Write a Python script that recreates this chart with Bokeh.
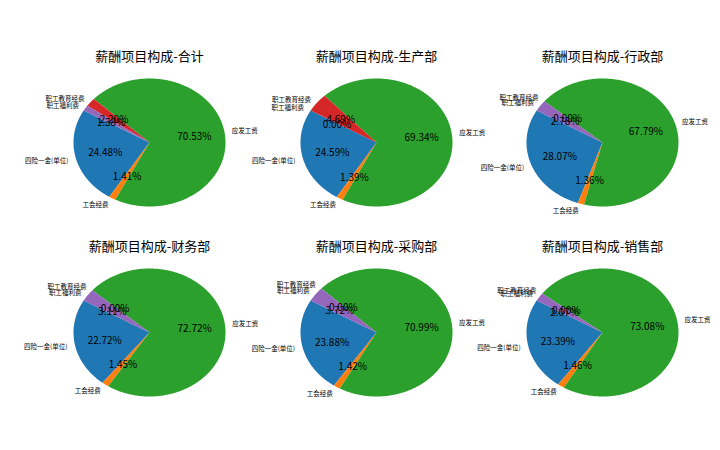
import numpy as np
from bokeh.plotting import figure
from bokeh.models import Range1d, ColumnDataSource
from bokeh.embed import file_html
from bokeh.resources import INLINE
from bokeh.core.properties import value

# ---- data ----
items = ["四险一金(单位)", "工会经费", "应发工资", "职工教育经费", "职工福利费"]
colors = ["#1f77b4", "#ff7f0e", "#2ca02c", "#d62728", "#9467bd"]
departments = ["合计", "生产部", "行政部", "财务部", "采购部", "销售部"]
share_total = [24.48, 1.41, 70.53, 2.20, 1.38]
share_prod = [24.59, 1.39, 69.34, 4.69, 0.00]
share_admin = [28.07, 1.36, 67.79, 0.00, 2.78]
share_fin = [22.72, 1.45, 72.72, 0.00, 3.11]
share_purch = [23.88, 1.42, 70.99, 0.00, 3.72]
share_sales = [23.39, 1.46, 73.08, 0.00, 2.07]
shares = [share_total, share_prod, share_admin, share_fin, share_purch, share_sales]

# ---- layout (page pixel coordinates) ----
col_x = [149, 376, 602]
row_y = [142, 332]
title_y = [55, 245]
RX, RY = 76, 64
START = 150.0
FONT = "Noto Sans CJK SC"

p = figure(width=712, height=434, x_range=Range1d(0, 712), y_range=Range1d(434, 0),
           output_backend="svg", toolbar_location=None, min_border=0,
           x_axis_location=None, y_axis_location=None)
p.grid.visible = False
p.outline_line_color = None

for k, (dept, vals) in enumerate(zip(departments, shares)):
    cx = col_x[k % 3]
    cy = row_y[k // 3]
    ty = title_y[k // 3]
    total = float(sum(vals))
    xs_list, ys_list, cols = [], [], []
    lab = dict(x=[], y=[], text=[], align=[])
    pct = dict(x=[], y=[], text=[])
    a = START
    for name, v, c in zip(items, vals, colors):
        span = 360.0 * v / total
        a0, a1 = a, a + span
        mid = np.deg2rad((a0 + a1) / 2.0)
        if span > 0:
            th = np.deg2rad(np.linspace(a0, a1, max(3, int(span * 2) + 2)))
            xs_list.append(list(np.concatenate([[cx], cx + RX * np.cos(th)])))
            ys_list.append(list(np.concatenate([[cy], cy - RY * np.sin(th)])))
            cols.append(c)
        lx = cx + 1.1 * RX * np.cos(mid)
        ly = cy - 1.1 * RY * np.sin(mid)
        lab["x"].append(lx); lab["y"].append(ly); lab["text"].append(name)
        lab["align"].append("left" if np.cos(mid) > 0 else "right")
        pct["x"].append(cx + 0.6 * RX * np.cos(mid))
        pct["y"].append(cy - 0.6 * RY * np.sin(mid))
        pct["text"].append(f"{v:.2f}%")
        a = a1
    p.patches(xs=xs_list, ys=ys_list, fill_color=cols, line_color=None)
    p.text(x="x", y="y", text="text", text_align="align", source=ColumnDataSource(lab),
           text_baseline="middle", text_font=value(FONT), text_font_size="6.5px",
           text_color="#000000")
    p.text(x="x", y="y", text="text", source=ColumnDataSource(pct),
           text_align="center", text_baseline="middle", text_font=value(FONT),
           text_font_size="10px", text_color="#000000")
    p.text(x=[cx], y=[ty], text=["薪酬项目构成-" + dept], text_align="center",
           text_baseline="middle", text_font=value(FONT), text_font_size="13px",
           text_color="#000000")

open("out.html", "w").write(file_html(p, INLINE))
